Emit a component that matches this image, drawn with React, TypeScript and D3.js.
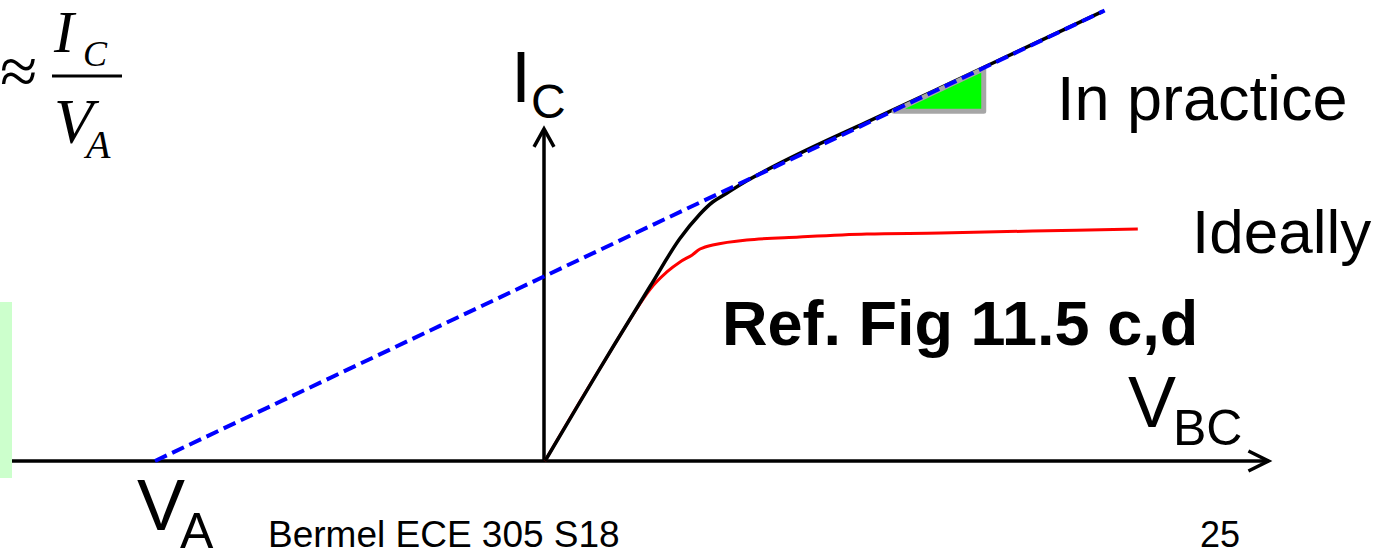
import React from "react";
import * as d3 from "d3";

const W = 1390;
const H = 551;

// Collector-base voltage in arbitrary units (Early voltage at -4) and normalised collector current
const earlyVoltage = -4;
const practiceV = [0, 0.56, 1.08, 1.38, 1.59, 1.72, 1.86, 2.07, 2.41, 2.75, 3.3, 4.0, 5.0, 5.72];
const practiceI = [0, 0.497, 0.946, 1.2, 1.335, 1.4, 1.446, 1.515, 1.61, 1.698, 1.832, 2.004, 2.252, 2.43];
const idealV = [0, 0.56, 1.08, 1.25, 1.385, 1.51, 1.59, 1.72, 2.07, 2.61, 3.3, 4.06, 5.0, 6.08];
const idealI = [0, 0.497, 0.93, 1.022, 1.076, 1.114, 1.146, 1.168, 1.195, 1.211, 1.227, 1.232, 1.243, 1.254];
// Extrapolated saturation-region tangent, from V_A to the top of the plot
const tangentV = [earlyVoltage, 5.74];
const tangentI = [0, 2.435];
// Slope triangle sitting under the tangent
const slopeV = [3.58, 4.5, 4.5];
const slopeI = [1.89, 2.12, 1.89];
// Axis extents
const axisVMin = -5.6;
const axisVMax = 7.42;
const axisIMax = 1.795;

const x = d3.scaleLinear().domain([earlyVoltage, 0]).range([155, 545]);
const y = d3.scaleLinear().domain([0, 1]).range([461, 276]);

const zip = (vs: number[], is: number[]) => vs.map((v, k) => [v, is[k]] as [number, number]);

const smooth = d3
  .line<[number, number]>()
  .x((d) => x(d[0]))
  .y((d) => y(d[1]))
  .curve(d3.curveCatmullRom.alpha(0.5));
const straight = d3
  .line<[number, number]>()
  .x((d) => x(d[0]))
  .y((d) => y(d[1]));

const SANS = "'Liberation Sans', Arial, sans-serif";
const SERIF = "'Liberation Serif', 'Times New Roman', serif";

export default function App() {
  const x0 = x(axisVMin);
  const x1 = x(axisVMax);
  const ox = x(0) - 1;
  const oy = y(0);
  const yTop = y(axisIMax);

  return (
    <svg
      width={W}
      height={H}
      viewBox={`0 0 ${W} ${H}`}
      style={{ position: "absolute", left: 0, top: 0, background: "#fff" }}
    >
      {/* axes */}
      <line x1={x0} y1={oy} x2={x1} y2={oy} stroke="#000" strokeWidth={3.5} />
      <polyline
        points={`${x1 - 20},${oy - 10} ${x1},${oy} ${x1 - 20},${oy + 10}`}
        fill="none"
        stroke="#000"
        strokeWidth={3.5}
      />
      <line x1={ox} y1={oy} x2={ox} y2={yTop} stroke="#000" strokeWidth={3.5} />
      <polyline
        points={`${ox - 10},${yTop + 18} ${ox},${yTop} ${ox + 10},${yTop + 18}`}
        fill="none"
        stroke="#000"
        strokeWidth={3.5}
      />

      {/* ideal and practical output characteristics */}
      <path d={smooth(zip(idealV, idealI)) ?? ""} fill="none" stroke="#ff0000" strokeWidth={3} />
      <path d={smooth(zip(practiceV, practiceI)) ?? ""} fill="none" stroke="#000" strokeWidth={3.5} />

      {/* slope triangle */}
      <path
        d={(straight(zip(slopeV, slopeI)) ?? "") + "Z"}
        fill="#00ff00"
        stroke="#a6a6a6"
        strokeWidth={5}
        strokeLinejoin="round"
      />

      {/* tangent extrapolated to the Early voltage */}
      <path
        d={straight(zip(tangentV, tangentI)) ?? ""}
        fill="none"
        stroke="#0000ff"
        strokeWidth={4}
        strokeDasharray="13 6"
      />

      {/* side note box */}
      <rect x={0} y={302} width={12} height={176} fill="#ccffcc" />

      {/* output conductance formula */}
      <g fontFamily={SERIF} fill="#000">
        <text x={0} y={94} fontSize={68}>≈</text>
        <line x1={52} y1={76} x2={122} y2={76} stroke="#000" strokeWidth={3} />
        <text x={54} y={52} fontSize={60} fontStyle="italic">I</text>
        <text x={83} y={66} fontSize={36} fontStyle="italic">C</text>
        <text x={54} y={143} fontSize={64} fontStyle="italic">V</text>
        <text x={86} y={158} fontSize={40} fontStyle="italic">A</text>
      </g>

      <g fontFamily={SANS} fill="#000">
        <text x={511} y={102} fontSize={72}>I</text>
        <text x={531} y={118} fontSize={48}>C</text>

        <text x={1128} y={427} fontSize={72}>V</text>
        <text x={1173} y={445} fontSize={50}>BC</text>

        <text x={137} y={530} fontSize={72}>V</text>
        <text x={180} y={548} fontSize={50}>A</text>

        <text x={1057} y={120} fontSize={63}>In practice</text>
        <text x={1192} y={253} fontSize={62}>Ideally</text>
        <text x={722} y={345} fontSize={63} fontWeight="bold">Ref. Fig 11.5 c,d</text>

        <text x={268} y={547} fontSize={37}>Bermel ECE 305 S18</text>
        <text x={1200} y={547} fontSize={36}>25</text>
      </g>
    </svg>
  );
}
